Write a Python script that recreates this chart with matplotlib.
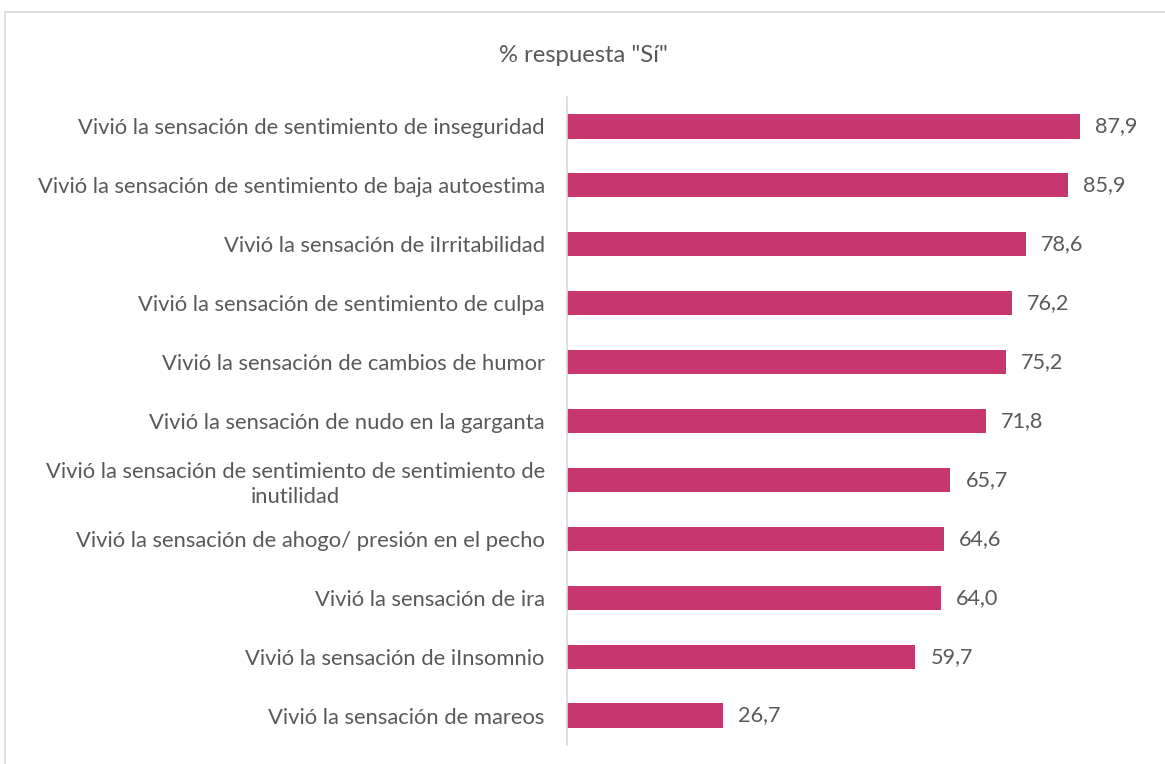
import matplotlib.pyplot as plt
import matplotlib.patches as patches

categorias = [
    "Vivió la sensación de sentimiento de inseguridad",
    "Vivió la sensación de sentimiento de baja autoestima",
    "Vivió la sensación de iIrritabilidad",
    "Vivió la sensación de sentimiento de culpa",
    "Vivió la sensación de cambios de humor",
    "Vivió la sensación de nudo en la garganta",
    "Vivió la sensación de sentimiento de sentimiento de\ninutilidad",
    "Vivió la sensación de ahogo/ presión en el pecho",
    "Vivió la sensación de ira",
    "Vivió la sensación de iInsomnio",
    "Vivió la sensación de mareos",
]
valores = [87.9, 85.9, 78.6, 76.2, 75.2, 71.8, 65.7, 64.6, 64.0, 59.7, 26.7]

color_barra = '#C8366F'
gris = '#595959'

plt.rcParams['font.family'] = ['Lato', 'DejaVu Sans']

fig = plt.figure(figsize=(11.65, 7.64), dpi=100)
ax = fig.add_axes([567 / 1165, 19 / 764, 583.6 / 1165, 648 / 764])

# marco del gráfico
marco = patches.Rectangle((5 / 1165, -0.1), 1.2, (764 - 12) / 764 + 0.1,
                          transform=fig.transFigure, fill=False,
                          edgecolor='#D9D9D9', linewidth=1.2)
fig.patches.append(marco)

pos = list(range(len(categorias)))
ax.barh(pos, valores, height=0.41, color=color_barra)

for p, v in zip(pos, valores):
    ax.text(v + 2.6, p, f"{v:.1f}".replace('.', ','), va='center', ha='left',
            fontsize=15.6, color=gris)

ax.set_yticks(pos)
ax.set_yticklabels(categorias, fontsize=15.8, color=gris, multialignment='center',
                   linespacing=1.3)
ax.tick_params(axis='y', length=0, pad=16)
ax.set_xticks([])
ax.set_xlim(0, 100)
ax.set_ylim(len(categorias) - 0.5, -0.5)

for lado in ['top', 'right', 'bottom']:
    ax.spines[lado].set_visible(False)
ax.spines['left'].set_color('#D9D9D9')
ax.spines['left'].set_linewidth(1.2)

fig.text(583 / 1165, 1 - 55 / 764, '% respuesta "Sí"', ha='center', va='center',
         fontsize=17.2, color=gris)

fig.savefig('out.png', dpi=100)
